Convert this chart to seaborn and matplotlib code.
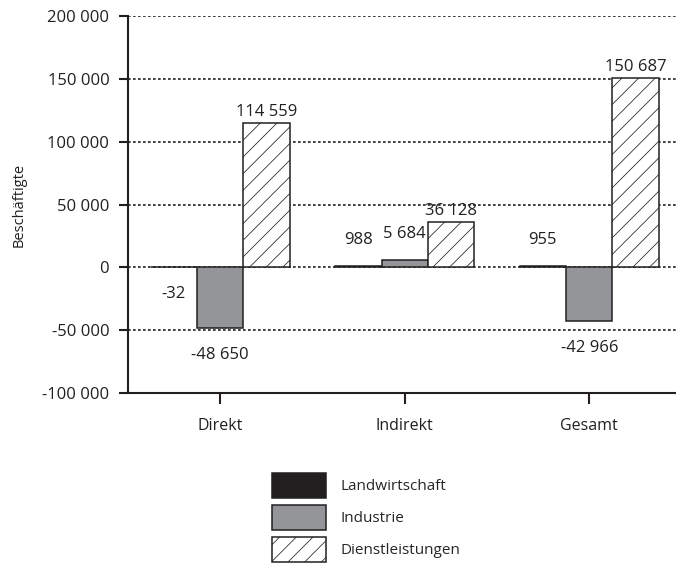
import matplotlib
matplotlib.use("Agg")
import matplotlib.pyplot as plt
import seaborn as sns
import pandas as pd
from matplotlib.patches import Patch

# Employment effects by sector
bereiche = ["Direkt", "Indirekt", "Gesamt"]
sektoren = ["Landwirtschaft", "Industrie", "Dienstleistungen"]
landwirtschaft = [-32, 988, 955]
industrie = [-48650, 5684, -42966]
dienstleistungen = [114559, 36128, 150687]
y_ticks = [-100000, -50000, 0, 50000, 100000, 150000, 200000]

farben = {"Landwirtschaft": "#231f20", "Industrie": "#939598", "Dienstleistungen": "#ffffff"}

rows = []
for sektor, werte in zip(sektoren, [landwirtschaft, industrie, dienstleistungen]):
    for b, w in zip(bereiche, werte):
        rows.append({"Bereich": b, "Sektor": sektor, "Wert": w})
df = pd.DataFrame(rows)

sns.set_theme(style="white")
plt.rcParams["font.family"] = ["Open Sans", "DejaVu Sans"]
plt.rcParams["hatch.linewidth"] = 0.55
plt.rcParams["hatch.color"] = "#231f20"

FS = 12
INK = "#231f20"

def fmt(v):
    return f"{v:,}".replace(",", " ")

fig = plt.figure(figsize=(6.76, 5.66), dpi=100)
ax = fig.add_axes([128 / 676, 1 - 393 / 566, 1 - 128 / 676, (393 - 16) / 566])

sns.barplot(data=df, x="Bereich", y="Wert", hue="Sektor", order=bereiche,
            hue_order=sektoren, palette=farben, width=0.755, dodge=True,
            edgecolor=INK, linewidth=1.1, saturation=1, ax=ax, legend=False,
            zorder=3)

for i, cont in enumerate(ax.containers):
    sektor = sektoren[i]
    for bar in cont:
        if sektor == "Dienstleistungen":
            bar.set_hatch("//")
    werte = [landwirtschaft, industrie, dienstleistungen][i]
    off = 8 if sektor == "Dienstleistungen" else 19
    for bar, v in zip(cont, werte):
        xc = bar.get_x() + bar.get_width() / 2
        ax.annotate(fmt(v), (xc, v), xytext=(0, off if v >= 0 else -off),
                    textcoords="offset points", ha="center", va="center",
                    fontsize=FS, color=INK, zorder=5)

ax.set_ylim(-100000, 200000)
ax.set_xlim(-0.5, 2.47)
ax.set_yticks(y_ticks)
ax.set_yticklabels([fmt(t) for t in y_ticks], fontsize=FS, color=INK)
ax.set_xticks(range(len(bereiche)))
ax.set_xticklabels(bereiche, fontsize=11.5, color=INK)
ax.set_xlabel("")
ax.set_ylabel("Beschäftigte", fontsize=10.5, color=INK, labelpad=11)

for t in y_ticks[1:]:
    ax.axhline(t, color=INK, linestyle=(0, (1.6, 1.4)), linewidth=1.2, zorder=1)

for s in ["top", "right"]:
    ax.spines[s].set_visible(False)
for s in ["left", "bottom"]:
    ax.spines[s].set_color(INK)
    ax.spines[s].set_linewidth(1.5)
ax.tick_params(axis="y", direction="out", length=6.5, width=1.5, color=INK, pad=7, left=True)
ax.tick_params(axis="x", direction="out", length=8, width=1.5, color=INK, pad=10, bottom=True)

handles = [
    Patch(facecolor=farben["Landwirtschaft"], edgecolor=INK, linewidth=1.1),
    Patch(facecolor=farben["Industrie"], edgecolor=INK, linewidth=1.1),
    Patch(facecolor=farben["Dienstleistungen"], edgecolor=INK, linewidth=1.1, hatch="//"),
]
fig.legend(handles, sektoren, loc="upper left", bbox_to_anchor=(272 / 676, 1 - 473 / 566),
           frameon=False, fontsize=11, handlelength=3.54, handleheight=2.14,
           labelspacing=0.46, handletextpad=0.95, borderpad=0, borderaxespad=0)

fig.savefig("out.png", dpi=100)
